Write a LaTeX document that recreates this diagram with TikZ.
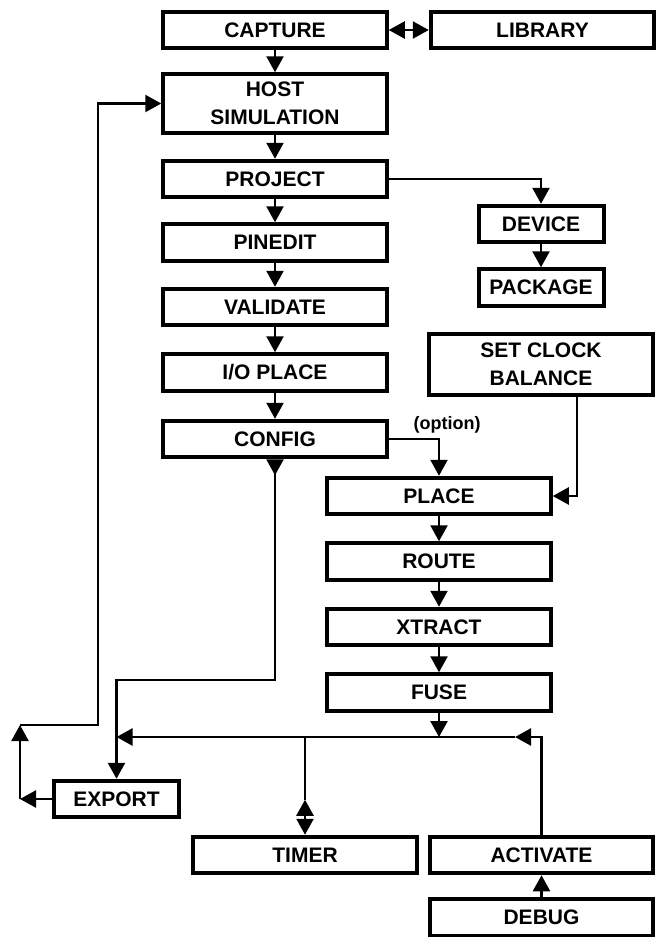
\documentclass[tikz,border=0pt]{standalone}
\usepackage{fontspec}
\setmainfont{Liberation Sans}
\usepackage{tikz}
\usetikzlibrary{arrows.meta, positioning}

\begin{document}
\begin{tikzpicture}[
  x=1pt, y=-1pt,
  node distance=24pt and 40pt,
  box/.style={rectangle, draw, line width=4pt, fill=white,
              minimum width=223.5pt, minimum height=36.5pt, inner sep=2pt,
              align=center, font=\bfseries\fontsize{21}{28}\selectfont},
  small/.style={box, minimum width=125pt},
  arr/.style={-{Triangle[length=16pt, width=17pt]}, line width=2.4pt},
  dbl/.style={{Triangle[length=16pt, width=17pt]}-{Triangle[length=16pt, width=17pt]}, line width=2.4pt},
  rarr/.style={{Triangle[length=16pt, width=17pt, reversed]}-{Triangle[length=16pt, width=17pt]}, line width=2.4pt},
  wire/.style={line width=2.4pt},
  note/.style={font=\bfseries\fontsize{18}{20}\selectfont, inner sep=2pt},
]
\useasboundingbox (0,0) rectangle (657,937);

% main column
\node[box] (capture) at (275,30) {CAPTURE};
\node[box, right=40pt of capture] (library) {LIBRARY};
\node[box, below=22pt of capture, minimum height=58.5pt] (host) {HOST\\SIMULATION};
\node[box, below=24pt of host] (project) {PROJECT};
\node[box, below=23pt of project] (pinedit) {PINEDIT};
\node[box, below=24pt of pinedit] (validate) {VALIDATE};
\node[box, below=25pt of validate] (iop) {I/O PLACE};
\node[box, below=26pt of iop] (config) {CONFIG};

% right side
\node[small] (device) at (541,224) {DEVICE};
\node[small, below=23pt of device] (package) {PACKAGE};
\node[box, minimum height=61pt] (setclock) at (541,364.5) {SET CLOCK\\BALANCE};
\node[box] (place) at (439,496) {PLACE};
\node[box, below=25pt of place] (route) {ROUTE};
\node[box, below=25pt of route] (xtract) {XTRACT};
\node[box, below=25pt of xtract] (fuse) {FUSE};

% bottom row
\node[small] (export) at (116.5,799) {EXPORT};
\node[box] (timer) at (305,855) {TIMER};
\node[box, right=9pt of timer] (activate) {ACTIVATE};
\node[box, below=22pt of activate] (debug) {DEBUG};

\coordinate (cbend) at (116.5,680);
\coordinate (busL) at (116.5,737);
\coordinate (busA) at (515,737);
\coordinate[above=35pt of timer] (tmid);
\coordinate (eL) at (20,799);
\coordinate (eU) at (20,725);
\coordinate (hL) at (98,725);

\draw[dbl] (capture) -- (library);
\draw[arr] (capture) -- (host);
\draw[arr] (host) -- (project);
\draw[arr] (project) -- (pinedit);
\draw[arr] (pinedit) -- (validate);
\draw[arr] (validate) -- (iop);
\draw[arr] (iop) -- (config);
\draw[arr] (project.east) -| (device.north);
\draw[arr] (device) -- (package);
\draw[arr] ([xshift=36pt]setclock.south) |- (place.east);
\draw[arr] (config.east) -| node[pos=0.5, note, above, xshift=8pt, yshift=3pt]{(option)} (place.north);
\draw[arr] (place) -- (route);
\draw[arr] (route) -- (xtract);
\draw[arr] (xtract) -- (fuse);
\draw[rarr] (config.south) |- (cbend) -- (export.north);
\draw[arr] (fuse) -- (fuse.south |- busL);
\draw[arr] (activate.north) |- (busA);
\draw[arr] (busA) -- (busL);
\draw[wire] (timer.north |- busL) -- (tmid);
\draw[dbl] (tmid) -- (timer);
\draw[arr] (debug) -- (activate);
\draw[arr] (export) -- (eL);
\draw[arr] (eL) -- (eU);
\draw[arr] (eU) -- (hL) |- (host.west);
\end{tikzpicture}
\end{document}
